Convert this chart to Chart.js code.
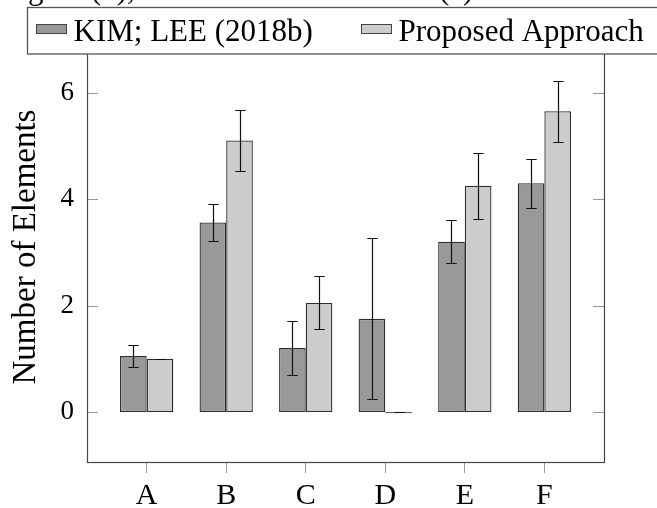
<!DOCTYPE html>
<html>
<head>
<meta charset="utf-8">
<script src="https://cdn.jsdelivr.net/npm/chart.js@4/dist/chart.umd.min.js"></script>
<style>
  html, body { margin: 0; padding: 0; background: #ffffff; }
  #wrap { width: 657px; height: 508px; }
</style>
</head>
<body>
<div id="wrap"><canvas id="chart" width="657" height="508"></canvas></div>
<script>
// Categories and per-method averages with their standard deviations
const categories = ['A', 'B', 'C', 'D', 'E', 'F'];
const kimLee = [1.05, 3.56, 1.20, 1.75, 3.20, 4.30];
const kimLeeErr = [0.21, 0.35, 0.51, 1.51, 0.40, 0.46];
const proposed = [1.00, 5.10, 2.05, 0.00, 4.25, 5.65];
const proposedErr = [0.00, 0.57, 0.50, 0.00, 0.62, 0.57];
const yTicks = [0, 2, 4, 6];
const seriesNames = ['KIM; LEE (2018b)', 'Proposed Approach'];

const SERIF = '"Liberation Serif", "Times New Roman", serif';

function toPoints(values) {
  return values.map((v, i) => ({ x: i, y: v }));
}

// Vertical whiskers with caps on each bar
const errorBarPlugin = {
  id: 'errorBars',
  afterDatasetsDraw(chart) {
    const ctx = chart.ctx;
    const yScale = chart.scales.y;
    ctx.save();
    chart.data.datasets.forEach((ds, di) => {
      const meta = chart.getDatasetMeta(di);
      meta.data.forEach((bar, i) => {
        const v = ds.data[i].y;
        const e = ds.errorBars[i];
        const x = Math.round(bar.x) + 0.5;
        // outline of a zero-height bar
        if (Math.abs(bar.base - bar.y) < 1) {
          ctx.strokeStyle = '#666666';
          ctx.lineWidth = 1.2;
          ctx.beginPath();
          ctx.moveTo(bar.x - bar.width / 2, Math.round(bar.y) + 0.5);
          ctx.lineTo(bar.x + bar.width / 2, Math.round(bar.y) + 0.5);
          ctx.stroke();
        }
        const yTop = Math.round(yScale.getPixelForValue(v + e)) + 0.5;
        const yBot = Math.round(yScale.getPixelForValue(v - e)) + 0.5;
        ctx.strokeStyle = '#111111';
        ctx.lineWidth = 1.2;
        ctx.beginPath();
        ctx.moveTo(x, yTop);
        ctx.lineTo(x, yBot);
        ctx.moveTo(x - 5.2, yTop);
        ctx.lineTo(x + 5.2, yTop);
        ctx.moveTo(x - 5.2, yBot);
        ctx.lineTo(x + 5.2, yBot);
        ctx.stroke();
      });
    });
    ctx.restore();
  }
};

// Axis box, inward y tick marks, legend box and the caption fragments above it
const framePlugin = {
  id: 'frameAndLegend',
  afterDraw(chart) {
    const ctx = chart.ctx;
    const a = chart.chartArea;
    const yScale = chart.scales.y;
    ctx.save();

    // y tick marks pointing inward on both sides
    ctx.strokeStyle = '#9a9a9a';
    ctx.lineWidth = 1;
    yTicks.forEach(t => {
      const py = Math.round(yScale.getPixelForValue(t)) + 0.5;
      ctx.beginPath();
      ctx.moveTo(a.left, py);
      ctx.lineTo(a.left + 11, py);
      ctx.moveTo(a.right, py);
      ctx.lineTo(a.right - 11, py);
      ctx.stroke();
    });

    // plot frame
    ctx.strokeStyle = '#444444';
    ctx.lineWidth = 1.2;
    ctx.strokeRect(Math.round(a.left) + 0.5, Math.round(a.top) + 0.5,
                   Math.round(a.right - a.left), Math.round(a.bottom - a.top));

    // caption line cut off at the top edge
    ctx.fillStyle = '#000000';
    ctx.font = '31px ' + SERIF;
    ctx.textAlign = 'left';
    ctx.textBaseline = 'alphabetic';
    ctx.fillText('gure (b),', 28, -1);
    ctx.fillText('(c)', 439, -1);

    // legend box
    ctx.fillStyle = '#ffffff';
    ctx.fillRect(27.5, 7.5, 700, 46.5);
    ctx.strokeStyle = '#555555';
    ctx.lineWidth = 1.3;
    ctx.strokeRect(27.5, 7.5, 700, 46.5);

    const itemX = [36, 361];
    chart.data.datasets.forEach((ds, di) => {
      const x0 = itemX[di];
      ctx.fillStyle = ds.backgroundColor;
      ctx.fillRect(x0, 24, 30, 9.5);
      ctx.strokeStyle = '#444444';
      ctx.lineWidth = 1;
      ctx.strokeRect(x0 + 0.5, 24.5, 30, 9);
      ctx.fillStyle = '#000000';
      ctx.font = '31px ' + SERIF;
      ctx.textBaseline = 'alphabetic';
      ctx.fillText(ds.label, x0 + 37.5, 40.5);
    });
    ctx.restore();
  }
};

new Chart(document.getElementById('chart'), {
  type: 'bar',
  data: {
    datasets: [
      {
        label: seriesNames[0],
        data: toPoints(kimLee),
        errorBars: kimLeeErr,
        backgroundColor: '#999999',
        borderColor: '#2e2e2e',
        borderWidth: 1.3,
        borderSkipped: false
      },
      {
        label: seriesNames[1],
        data: toPoints(proposed),
        errorBars: proposedErr,
        backgroundColor: '#cccccc',
        borderColor: '#2e2e2e',
        borderWidth: 1.3,
        borderSkipped: false
      }
    ]
  },
  options: {
    responsive: false,
    animation: false,
    devicePixelRatio: 1,
    layout: { padding: { left: 0, right: 53, top: 32, bottom: 0 } },
    datasets: { bar: { categoryPercentage: 0.67, barPercentage: 1.0 } },
    plugins: {
      legend: { display: false },
      tooltip: { enabled: false }
    },
    scales: {
      x: {
        type: 'linear',
        offset: false,
        min: -0.75,
        max: 5.75,
        afterBuildTicks(scale) {
          scale.ticks = categories.map((c, i) => ({ value: i }));
        },
        afterFit(scale) { scale.height = 46; },
        border: { display: false },
        grid: {
          offset: false,
          drawOnChartArea: false,
          drawTicks: true,
          tickLength: 11,
          color: '#9a9a9a',
          lineWidth: 1
        },
        ticks: {
          padding: 5,
          color: '#000000',
          font: { family: SERIF, size: 30 },
          maxRotation: 0,
          autoSkip: false,
          callback: (v) => categories[v]
        }
      },
      y: {
        type: 'linear',
        min: -0.94,
        max: 7.14,
        afterBuildTicks(scale) {
          scale.ticks = yTicks.map(v => ({ value: v }));
        },
        afterFit(scale) { scale.width = 87; },
        border: { display: false },
        grid: { display: false, drawTicks: false },
        ticks: {
          padding: 13,
          color: '#000000',
          font: { family: SERIF, size: 27 },
          callback: (v) => String(v)
        },
        title: {
          display: true,
          text: 'Number of Elements',
          color: '#000000',
          font: { family: SERIF, size: 33 },
          padding: { top: 7, bottom: 0 }
        }
      }
    }
  },
  plugins: [errorBarPlugin, framePlugin]
});
</script>
</body>
</html>
